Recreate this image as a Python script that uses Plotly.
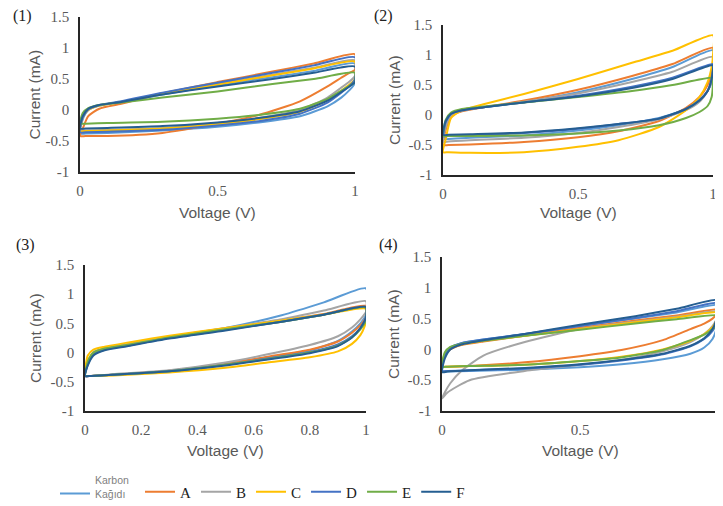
import plotly.graph_objects as go

# ---------------- data ----------------
SERIES = ["Karbon<br>Kağıdı", "A", "B", "C", "D", "E", "F"]
COLORS = ["#5B9BD5", "#ED7D31", "#A5A5A5", "#FFC000", "#4472C4", "#70AD47", "#255E91"]

# voltage grid of the forward (anodic) and reverse (cathodic) scans
V_UP = [0, 0.01, 0.03, 0.07, 0.15, 0.3, 0.5, 0.7, 0.85, 1.0]
V_DN = [1.0, 0.995, 0.98, 0.95, 0.9, 0.8, 0.65, 0.5, 0.3, 0.1, 0.02, 0.0]

# panel (1)
KAR1_UP = [-0.38, -0.15, 0.0, 0.07, 0.13, 0.25, 0.4, 0.53, 0.63, 0.75]
KAR1_DN = [0.45, 0.4, 0.32, 0.2, 0.06, -0.1, -0.2, -0.27, -0.33, -0.37, -0.38, -0.38]
A1_UP = [-0.42, -0.3, -0.1, 0.02, 0.1, 0.27, 0.45, 0.62, 0.75, 0.9]
A1_DN = [0.65, 0.63, 0.6, 0.52, 0.38, 0.14, -0.08, -0.22, -0.37, -0.42, -0.42, -0.42]
B1_UP = [-0.33, -0.12, 0.0, 0.07, 0.13, 0.26, 0.42, 0.57, 0.68, 0.8]
B1_DN = [0.55, 0.52, 0.46, 0.36, 0.2, 0.0, -0.13, -0.21, -0.29, -0.32, -0.33, -0.33]
C1_UP = [-0.34, -0.12, 0.0, 0.07, 0.13, 0.26, 0.41, 0.56, 0.67, 0.78]
C1_DN = [0.5, 0.47, 0.41, 0.31, 0.16, -0.03, -0.15, -0.23, -0.3, -0.33, -0.34, -0.34]
D1_UP = [-0.36, -0.12, 0.01, 0.08, 0.14, 0.28, 0.44, 0.6, 0.72, 0.85]
D1_DN = [0.5, 0.46, 0.39, 0.28, 0.12, -0.06, -0.18, -0.25, -0.32, -0.35, -0.36, -0.36]
E1_UP = [-0.22, -0.05, 0.03, 0.08, 0.12, 0.2, 0.3, 0.42, 0.5, 0.6]
E1_DN = [0.45, 0.43, 0.39, 0.31, 0.18, 0.02, -0.08, -0.14, -0.19, -0.21, -0.22, -0.22]
F1_UP = [-0.3, -0.1, 0.02, 0.08, 0.13, 0.25, 0.38, 0.5, 0.6, 0.7]
F1_DN = [0.45, 0.43, 0.38, 0.29, 0.15, -0.02, -0.13, -0.2, -0.26, -0.29, -0.3, -0.3]

# panel (2)
KAR2_UP = [-0.4, -0.15, 0.0, 0.07, 0.13, 0.22, 0.38, 0.6, 0.8, 1.08]
KAR2_DN = [0.7, 0.55, 0.4, 0.25, 0.1, -0.05, -0.17, -0.26, -0.34, -0.38, -0.4, -0.4]
A2_UP = [-0.5, -0.25, -0.02, 0.06, 0.13, 0.24, 0.42, 0.65, 0.85, 1.12]
A2_DN = [0.85, 0.7, 0.5, 0.3, 0.12, -0.1, -0.27, -0.37, -0.45, -0.49, -0.5, -0.5]
B2_UP = [-0.45, -0.2, 0.0, 0.07, 0.13, 0.22, 0.36, 0.55, 0.72, 0.97]
B2_DN = [0.7, 0.55, 0.4, 0.22, 0.08, -0.07, -0.2, -0.3, -0.38, -0.42, -0.44, -0.45]
C2_UP = [-0.62, -0.4, -0.05, 0.08, 0.18, 0.35, 0.6, 0.87, 1.07, 1.33]
C2_DN = [1.0, 0.8, 0.55, 0.3, 0.08, -0.2, -0.42, -0.53, -0.62, -0.63, -0.62, -0.62]
D2_UP = [-0.37, -0.12, 0.02, 0.08, 0.13, 0.21, 0.32, 0.47, 0.62, 0.85]
D2_DN = [0.8, 0.6, 0.4, 0.25, 0.1, -0.06, -0.15, -0.23, -0.3, -0.34, -0.35, -0.36]
E2_UP = [-0.3, -0.08, 0.04, 0.1, 0.14, 0.21, 0.3, 0.4, 0.5, 0.62]
E2_DN = [0.55, 0.3, 0.15, 0.05, -0.05, -0.17, -0.26, -0.31, -0.34, -0.35, -0.35, -0.35]
F2_UP = [-0.33, -0.1, 0.02, 0.08, 0.13, 0.21, 0.31, 0.45, 0.6, 0.83]
F2_DN = [0.75, 0.6, 0.4, 0.24, 0.1, -0.06, -0.15, -0.22, -0.29, -0.32, -0.33, -0.33]

# panel (3)
KAR3_UP = [-0.4, -0.2, -0.03, 0.06, 0.13, 0.26, 0.42, 0.64, 0.86, 1.1]
KAR3_DN = [0.65, 0.6, 0.5, 0.36, 0.2, 0.04, -0.08, -0.19, -0.31, -0.38, -0.4, -0.4]
A3_UP = [-0.4, -0.15, 0.0, 0.07, 0.14, 0.27, 0.41, 0.55, 0.66, 0.8]
A3_DN = [0.6, 0.56, 0.47, 0.34, 0.19, 0.05, -0.07, -0.19, -0.31, -0.38, -0.4, -0.4]
B3_UP = [-0.4, -0.15, 0.0, 0.07, 0.14, 0.27, 0.42, 0.57, 0.72, 0.88]
B3_DN = [0.7, 0.66, 0.57, 0.43, 0.28, 0.13, -0.03, -0.17, -0.3, -0.37, -0.4, -0.4]
C3_UP = [-0.3, -0.05, 0.05, 0.1, 0.17, 0.29, 0.42, 0.55, 0.65, 0.75]
C3_DN = [0.55, 0.45, 0.3, 0.15, 0.02, -0.08, -0.17, -0.26, -0.34, -0.39, -0.4, -0.4]
D3_UP = [-0.4, -0.2, -0.03, 0.05, 0.12, 0.25, 0.39, 0.53, 0.65, 0.78]
D3_DN = [0.6, 0.54, 0.42, 0.28, 0.14, 0.01, -0.1, -0.21, -0.32, -0.38, -0.4, -0.4]
E3_UP = [-0.38, -0.15, 0.0, 0.07, 0.13, 0.26, 0.4, 0.53, 0.65, 0.77]
E3_DN = [0.55, 0.5, 0.4, 0.26, 0.12, 0.0, -0.11, -0.21, -0.32, -0.38, -0.4, -0.4]
F3_UP = [-0.4, -0.22, -0.05, 0.04, 0.11, 0.24, 0.38, 0.53, 0.65, 0.78]
F3_DN = [0.6, 0.54, 0.42, 0.26, 0.11, -0.01, -0.12, -0.22, -0.32, -0.38, -0.4, -0.4]

# panel (4)
KAR4_UP = [-0.35, -0.1, 0.02, 0.1, 0.16, 0.25, 0.38, 0.5, 0.6, 0.72]
KAR4_DN = [0.55, 0.35, 0.17, 0.03, -0.07, -0.16, -0.24, -0.29, -0.33, -0.35, -0.36, -0.36]
A4_UP = [-0.28, -0.1, 0.0, 0.07, 0.13, 0.22, 0.35, 0.47, 0.55, 0.65]
A4_DN = [0.62, 0.57, 0.5, 0.42, 0.33, 0.15, -0.01, -0.11, -0.21, -0.27, -0.28, -0.28]
B4_UP = [-0.8, -0.7, -0.55, -0.35, -0.1, 0.12, 0.33, 0.45, 0.53, 0.62]
B4_DN = [0.6, 0.5, 0.38, 0.25, 0.12, -0.03, -0.17, -0.25, -0.35, -0.5, -0.7, -0.8]
C4_UP = [-0.28, -0.08, 0.02, 0.08, 0.14, 0.22, 0.33, 0.44, 0.52, 0.6]
C4_DN = [0.55, 0.47, 0.36, 0.25, 0.14, 0.0, -0.12, -0.19, -0.25, -0.27, -0.28, -0.28]
D4_UP = [-0.35, -0.1, 0.03, 0.1, 0.16, 0.25, 0.38, 0.51, 0.62, 0.75]
D4_DN = [0.6, 0.45, 0.3, 0.17, 0.05, -0.08, -0.18, -0.25, -0.31, -0.34, -0.35, -0.35]
E4_UP = [-0.28, -0.05, 0.04, 0.09, 0.14, 0.22, 0.32, 0.42, 0.49, 0.55]
E4_DN = [0.5, 0.42, 0.33, 0.24, 0.15, -0.01, -0.13, -0.19, -0.25, -0.27, -0.28, -0.28]
F4_UP = [-0.37, -0.15, 0.0, 0.08, 0.15, 0.25, 0.4, 0.54, 0.66, 0.8]
F4_DN = [0.65, 0.5, 0.33, 0.18, 0.06, -0.07, -0.17, -0.24, -0.3, -0.34, -0.36, -0.37]

PANEL_LABELS = ["(1)", "(2)", "(3)", "(4)"]
Y_TICKS = [-1, -0.5, 0, 0.5, 1, 1.5]
X_TICKS_A = [0, 0.5, 1]
X_TICKS_B = [0, 0.2, 0.4, 0.6, 0.8, 1]
X_TITLE = "Voltage (V)"
Y_TITLE = "Current (mA)"

PANELS = [
    [(KAR1_UP, KAR1_DN), (A1_UP, A1_DN), (B1_UP, B1_DN), (C1_UP, C1_DN),
     (D1_UP, D1_DN), (E1_UP, E1_DN), (F1_UP, F1_DN)],
    [(KAR2_UP, KAR2_DN), (A2_UP, A2_DN), (B2_UP, B2_DN), (C2_UP, C2_DN),
     (D2_UP, D2_DN), (E2_UP, E2_DN), (F2_UP, F2_DN)],
    [(KAR3_UP, KAR3_DN), (A3_UP, A3_DN), (B3_UP, B3_DN), (C3_UP, C3_DN),
     (D3_UP, D3_DN), (E3_UP, E3_DN), (F3_UP, F3_DN)],
    [(KAR4_UP, KAR4_DN), (A4_UP, A4_DN), (B4_UP, B4_DN), (C4_UP, C4_DN),
     (D4_UP, D4_DN), (E4_UP, E4_DN), (F4_UP, F4_DN)],
]

# ---------------- layout helpers (page pixels -> paper) ----------------
# the page body keeps its default 8px margin, so the figure is offset by 8px
OFF = 8
W, H = 723 - OFF, 506 - OFF
def px(x):
    return (x - OFF) / W
def py(y):
    return 1 - (y - OFF) / H

# axes boxes: (left, right, top(1.5), bottom(-1)) in page pixels, x range max
BOXES = [
    (80, 355, 17, 172, 1.0),
    (443, 713, 25, 175, 1.0),
    (85, 366, 265, 411, 1.0),
    (442, 723, 257, 411, 1.018),
]
LABEL_POS = [(22, 16), (383, 16), (25, 245), (388, 245)]
YTITLE_X = [34, 395, 35, 393]
XTITLE_Y = [212, 212, 450, 450]

fig = go.Figure()
for p, loops in enumerate(PANELS):
    ax = "" if p == 0 else str(p + 1)
    for s, (up, dn) in enumerate(loops):
        fig.add_trace(go.Scatter(
            x=V_UP + V_DN, y=up + dn,
            mode="lines",
            line=dict(color=COLORS[s], width=2, shape="spline", smoothing=0.6),
            name=SERIES[s],
            legend="legend2" if s == 0 else "legend",
            legendgroup=SERIES[s],
            showlegend=(p == 0),
            xaxis="x" + ax, yaxis="y" + ax,
            hoverinfo="skip",
        ))

tick_font = dict(family="Liberation Serif, Times New Roman, serif", size=15, color="#595959")
title_font = dict(family="Liberation Sans, Arial, sans-serif", size=15.5, color="#595959")

layout = dict(
    width=W, height=H,
    margin=dict(l=0, r=0, t=0, b=0, autoexpand=False),
    paper_bgcolor="white", plot_bgcolor="white",
    annotations=[],
)
for p, (l, r, t, b, xmax) in enumerate(BOXES):
    ax = "" if p == 0 else str(p + 1)
    xt = X_TICKS_B if p == 2 else X_TICKS_A
    layout["xaxis" + ax] = dict(
        domain=[px(l), min(px(r), 1.0)], range=[0, xmax],
        anchor="y" + ax, showgrid=False, zeroline=False,
        showline=True, linecolor="#262626", linewidth=1.6,
        ticks="", tickvals=xt, ticktext=[f"{v:g}" for v in xt],
        tickfont=tick_font, ticklabelstandoff=4, automargin=False,
        ticklabeloverflow="allow",
    )
    layout["yaxis" + ax] = dict(
        domain=[py(b), py(t)], range=[-1, 1.5],
        anchor="x" + ax, showgrid=False, zeroline=False,
        showline=True, linecolor="#262626", linewidth=1.6,
        ticks="", tickvals=Y_TICKS, ticktext=[f"{v:g}" for v in Y_TICKS],
        tickfont=tick_font, ticklabelstandoff=6, automargin=False,
    )
    lx, ly = LABEL_POS[p]
    layout["annotations"].append(dict(
        x=px(lx), y=py(ly), xref="paper", yref="paper", showarrow=False,
        text=PANEL_LABELS[p], xanchor="center", yanchor="middle",
        font=dict(family="Liberation Serif, Times New Roman, serif", size=16, color="#222222")))
    layout["annotations"].append(dict(
        x=px(YTITLE_X[p]), y=py((t + b) / 2), xref="paper", yref="paper", showarrow=False,
        text=Y_TITLE, textangle=-90, xanchor="center", yanchor="middle", font=title_font))
    layout["annotations"].append(dict(
        x=px((l + min(r, 718)) / 2), y=py(XTITLE_Y[p]), xref="paper", yref="paper",
        showarrow=False, text=X_TITLE, xanchor="center", yanchor="middle", font=title_font))

layout["legend"] = dict(
    orientation="h", x=px(140), y=py(492), xanchor="left", yanchor="middle",
    font=dict(family="Liberation Serif, Times New Roman, serif", size=15, color="#222222"),
    bgcolor="rgba(0,0,0,0)", tracegroupgap=0, itemwidth=30,
)
layout["legend2"] = dict(
    orientation="h", x=px(55), y=py(487), xanchor="left", yanchor="middle",
    font=dict(family="Liberation Sans, Arial, sans-serif", size=10.5, color="#7F7F7F"),
    bgcolor="rgba(0,0,0,0)", valign="bottom",
)
fig.update_layout(**layout)
fig.write_html("out.html")
